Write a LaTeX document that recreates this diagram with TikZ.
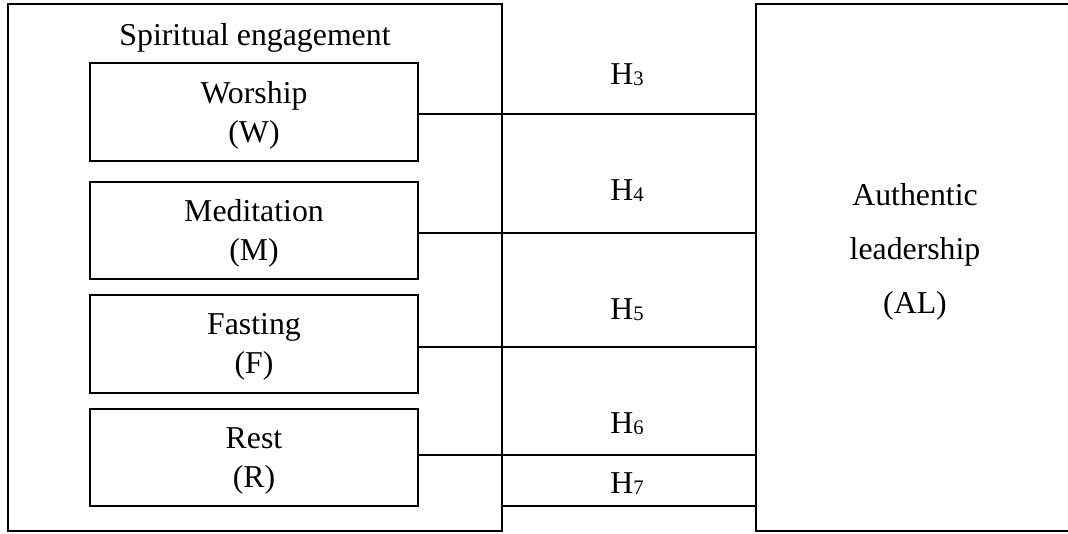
\documentclass[tikz,border=0pt]{standalone}
\usepackage{fontspec}
\setmainfont{Liberation Serif}
\usepackage{graphicx}
\newcommand{\hyp}[1]{H\raisebox{-1.6pt}{\scalebox{0.65}{#1}}}
\begin{document}
\begin{tikzpicture}[x=1pt,y=-1pt,
  frame/.style={draw=black,line width=1.1pt,rectangle,inner sep=0pt,outer sep=0pt,fill=none},
  inbox/.style={frame,minimum width=328pt},
  boxtext/.style={align=center,inner sep=0pt,font=\fontsize{31.8}{39}\selectfont},
  htext/.style={anchor=base,inner sep=0pt,font=\fontsize{31.8}{37}\selectfont},
  link/.style={draw=black,line width=1.1pt}]
\clip (0,0) rectangle (1068,533);
\fill[white] (0,0) rectangle (1068,533);
% outer frame
\node[frame,minimum width=494pt,minimum height=527pt] (SE) at (255,267.5) {};
\node[htext] (SEt) at (255,45) {Spiritual engagement};
% inner boxes
\node[inbox,minimum height=98pt] (W) at (254,112) {};
\node[boxtext] (Wt) at ([yshift=-3pt]W.center) {Worship\\(W)};
\node[inbox,minimum height=97pt] (M) at (254,230.5) {};
\node[boxtext] (Mt) at ([yshift=-3pt]M.center) {Meditation\\(M)};
\node[inbox,minimum height=98pt] (F) at (254,344) {};
\node[boxtext] (Ft) at ([yshift=-3pt]F.center) {Fasting\\(F)};
\node[inbox,minimum height=97pt] (R) at (254,457.5) {};
\node[boxtext] (Rt) at ([yshift=-3pt]R.center) {Rest\\(R)};
% right box
\node[frame,minimum width=318pt,minimum height=527pt] (AL) at (915,267.5) {};
\node[boxtext,font=\fontsize{31.8}{54}\selectfont] (ALt) at (915,251.75) {Authentic\\leadership\\(AL)};
% connectors
\draw[link] ([yshift=-2pt]W.east) -- ([yshift=-2pt]W.east -| AL.west);
\draw[link] ([yshift=-2.5pt]M.east) -- ([yshift=-2.5pt]M.east -| AL.west);
\draw[link] ([yshift=-3pt]F.east) -- ([yshift=-3pt]F.east -| AL.west);
\draw[link] ([yshift=2.5pt]R.east) -- ([yshift=2.5pt]R.east -| AL.west);
\draw[link] (SE.east |- R.south) -- (R.south -| AL.west);
% hypothesis labels
\node[htext] (H3) at (627,84) {\hyp{3}};
\node[htext] (H4) at (627,200) {\hyp{4}};
\node[htext] (H5) at (627,319) {\hyp{5}};
\node[htext] (H6) at (627,433) {\hyp{6}};
\node[htext] (H7) at (627,493) {\hyp{7}};
\end{tikzpicture}
\end{document}
